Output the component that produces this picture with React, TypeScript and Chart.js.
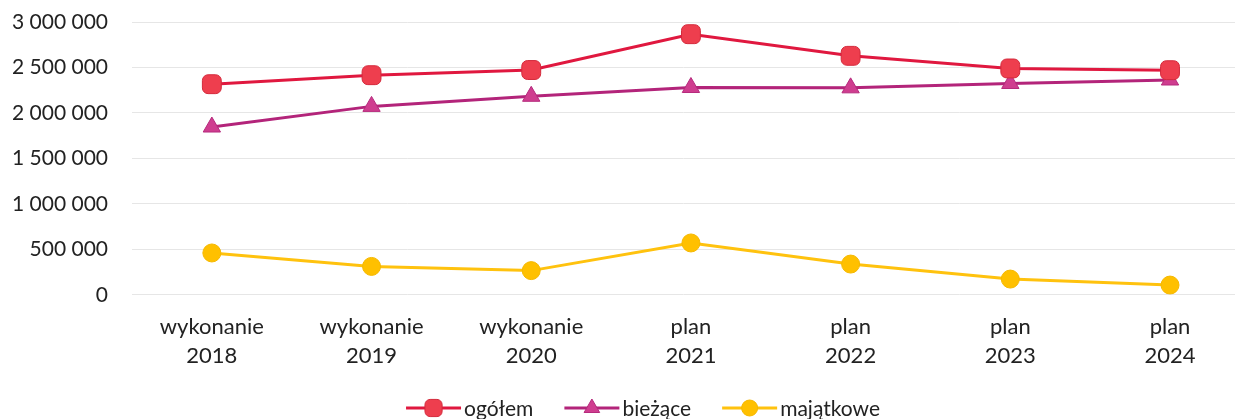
import React, { useEffect, useRef } from "react";
import { Chart, registerables } from "chart.js";
import { drawPoint } from "chart.js/helpers";

Chart.register(...registerables);

const categories: string[][] = [
  ["wykonanie", "2018"],
  ["wykonanie", "2019"],
  ["wykonanie", "2020"],
  ["plan", "2021"],
  ["plan", "2022"],
  ["plan", "2023"],
  ["plan", "2024"],
];

const ogolem = [2316000, 2415000, 2472000, 2866000, 2628000, 2489000, 2470000];
const biezace = [1845000, 2072000, 2183000, 2280000, 2276000, 2324000, 2362000];
const majatkowe = [460000, 312000, 266000, 570000, 338000, 173000, 107000];

const seriesNames = ["ogółem", "bieżące", "majątkowe"];
const yTickStep = 500000;
const yMax = 3000000;

const FONT = "Lato, 'Noto Sans', sans-serif";

const fmt = (v: number) =>
  String(Math.round(v)).replace(/\B(?=(\d{3})+(?!\d))/g, " ");

const legendPlugin = {
  id: "customLegend",
  afterDraw(chart: any) {
    const ctx = chart.ctx as CanvasRenderingContext2D;
    const ds = chart.data.datasets;
    ctx.save();
    ctx.font = `21px ${FONT}`;
    const lineW = 55;
    const gap = 3;
    const itemGap = 31;
    const widths = ds.map((d: any) => lineW + gap + ctx.measureText(d.label).width);
    const total = widths.reduce((a: number, b: number) => a + b, 0) + itemGap * (ds.length - 1);
    let x = 643 - total / 2;
    const y = 408;
    ds.forEach((d: any, i: number) => {
      ctx.strokeStyle = d.borderColor;
      ctx.lineWidth = 3;
      ctx.beginPath();
      ctx.moveTo(x, y);
      ctx.lineTo(x + lineW, y);
      ctx.stroke();
      ctx.fillStyle = d.pointBackgroundColor;
      ctx.strokeStyle = d.pointBorderColor;
      ctx.lineWidth = 1;
      drawPoint(ctx, { pointStyle: d.pointStyle, radius: d.pointRadius - 1, rotation: 0, borderWidth: 1 } as any, x + lineW / 2, y);
      ctx.fillStyle = "#222";
      ctx.textBaseline = "middle";
      ctx.textAlign = "left";
      ctx.fillText(d.label, x + lineW + gap, y + 1);
      x += widths[i] + itemGap;
    });
    ctx.restore();
  },
};

export default function App() {
  const ref = useRef<HTMLCanvasElement | null>(null);
  useEffect(() => {
    document.body.style.margin = "0";
    const mk = (vals: number[]) => vals.map((v, i) => ({ x: i, y: v }));
    const chart = new Chart(ref.current!, {
      type: "line",
      data: {
        datasets: [
          {
            label: seriesNames[0],
            data: mk(ogolem),
            borderColor: "#E0183F",
            borderWidth: 3,
            pointStyle: "rectRounded",
            pointRadius: 11,
            pointBackgroundColor: "#EE3E4E",
            pointBorderColor: "#D42A3C",
            pointBorderWidth: 1,
          },
          {
            label: seriesNames[1],
            data: mk(biezace),
            borderColor: "#B3247A",
            borderWidth: 3,
            pointStyle: "triangle",
            pointRadius: 10,
            pointBackgroundColor: "#CF3D8F",
            pointBorderColor: "#B52A7C",
            pointBorderWidth: 1,
          },
          {
            label: seriesNames[2],
            data: mk(majatkowe),
            borderColor: "#FFC20E",
            borderWidth: 3,
            pointStyle: "circle",
            pointRadius: 9,
            pointBackgroundColor: "#FFC000",
            pointBorderColor: "#F5B800",
            pointBorderWidth: 1,
          },
        ],
      },
      options: {
        animation: false,
        responsive: false,
        layout: { autoPadding: false, padding: { top: 22, right: 0, bottom: 39, left: 0 } },
        plugins: { legend: { display: false }, tooltip: { enabled: false } },
        scales: {
          x: {
            type: "linear",
            min: -0.5,
            max: 6.407,
            grid: { display: false },
            border: { display: false },
            afterBuildTicks: (scale: any) => {
              scale.ticks = categories.map((_, i) => ({ value: i }));
            },
            afterFit: (scale: any) => {
              scale.paddingLeft = 0;
              scale.paddingRight = 0;
            },
            ticks: {
              autoSkip: false,
              maxRotation: 0,
              padding: 10,
              color: "#222",
              font: { family: FONT, size: 22, lineHeight: 1.3 },
              callback: (v: any) => categories[Number(v)] ?? "",
            },
          },
          y: {
            min: 0,
            max: yMax,
            afterFit: (scale: any) => {
              scale.width = 132;
              scale.paddingTop = 0;
              scale.paddingBottom = 0;
            },
            grid: { color: "#E6E6E6", lineWidth: 1, drawTicks: false },
            border: { display: false },
            ticks: {
              stepSize: yTickStep,
              padding: 24,
              color: "#222",
              font: { family: FONT, size: 21 },
              callback: (v: any) => fmt(Number(v)),
            },
          },
        },
      },
      plugins: [legendPlugin],
    });
    return () => chart.destroy();
  }, []);
  return (
    <div style={{ width: 1235, height: 419 }}>
      <canvas ref={ref} width={1235} height={419} style={{ display: "block", width: 1235, height: 419 }} />
    </div>
  );
}
